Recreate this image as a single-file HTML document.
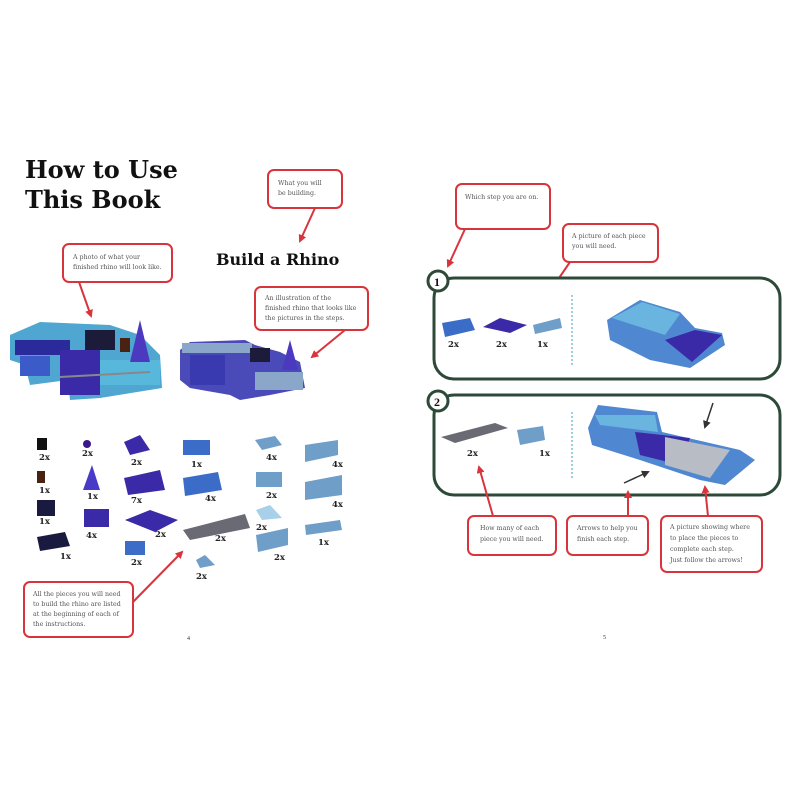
<!DOCTYPE html>
<html><head><meta charset="utf-8"><style>
html,body{margin:0;padding:0;background:#fff;}
svg{display:block}
.t{font-family:"DejaVu Serif",serif;font-size:6.3px;fill:#555}
.q{font-family:"DejaVu Serif",serif;font-weight:bold;font-size:8.5px;fill:#222}
.box{fill:#fff;stroke:#d8343c;stroke-width:2}
.ar{stroke:#d8343c;stroke-width:2;fill:none;marker-end:url(#ah)}
</style></head><body>
<svg width="800" height="800" viewBox="0 0 800 800" xmlns="http://www.w3.org/2000/svg">
<defs>
<marker id="ah" markerWidth="8" markerHeight="8" refX="6" refY="4" orient="auto" markerUnits="userSpaceOnUse"><path d="M0,0 L8,4 L0,8 z" fill="#d8343c"/></marker>
<marker id="bh" markerWidth="8" markerHeight="8" refX="6" refY="4" orient="auto" markerUnits="userSpaceOnUse"><path d="M0,0 L8,4 L0,8 z" fill="#333"/></marker>
</defs>
<text x="25" y="178" font-family="DejaVu Serif,serif" font-weight="bold" font-size="24" fill="#111">How to Use</text>
<text x="25" y="208" font-family="DejaVu Serif,serif" font-weight="bold" font-size="24" fill="#111">This Book</text>
<text x="216" y="265" font-family="DejaVu Serif,serif" font-weight="bold" font-size="16" fill="#111">Build a Rhino</text>

<rect class="box" x="268" y="170" width="74" height="38" rx="6"/>
<text class="t" x="278" y="185">What you will</text><text class="t" x="278" y="195">be building.</text>
<line class="ar" x1="315" y1="208" x2="300" y2="241"/>

<rect class="box" x="63" y="244" width="109" height="38" rx="6"/>
<text class="t" x="73" y="259">A photo of what your</text><text class="t" x="73" y="269">finished rhino will look like.</text>
<line class="ar" x1="79" y1="282" x2="91" y2="316"/>

<rect class="box" x="255" y="287" width="113" height="43" rx="6"/>
<text class="t" x="265" y="300">An illustration of the</text><text class="t" x="265" y="310">finished rhino that looks like</text><text class="t" x="265" y="320">the pictures in the steps.</text>
<line class="ar" x1="345" y1="330" x2="312" y2="357"/>

<g>
<polygon points="10,335 40,322 110,325 140,335 160,355 162,388 100,398 70,400 68,380 30,385 25,365 10,360" fill="#4fa6d0"/>
<rect x="15" y="340" width="55" height="15" fill="#2a2a9a"/>
<rect x="20" y="356" width="30" height="20" fill="#3b5cc8"/>
<rect x="60" y="350" width="40" height="45" fill="#3a2aa8"/>
<rect x="100" y="360" width="60" height="25" fill="#58b8dc"/>
<rect x="85" y="330" width="30" height="20" fill="#1c1c3a"/>
<polygon points="130,362 140,320 150,362" fill="#4b3ac0"/>
<rect x="120" y="338" width="10" height="14" fill="#4a2212"/>
<line x1="60" y1="377" x2="150" y2="372" stroke="#888" stroke-width="2"/>
</g>
<g>
<polygon points="180,350 190,342 245,340 255,345 280,352 300,362 305,388 270,395 240,400 230,395 190,388 180,380" fill="#4a4ab8"/>
<rect x="182" y="343" width="70" height="10" fill="#8aa6c8"/>
<rect x="190" y="355" width="35" height="30" fill="#3a3ab0"/>
<rect x="255" y="372" width="48" height="18" fill="#8aa6c8"/>
<rect x="250" y="348" width="20" height="14" fill="#1c1c3a"/>
<polygon points="282,370 290,340 298,370" fill="#4b3ac0"/>
</g>

<g>
<rect x="37" y="438" width="10" height="12" fill="#111"/>
<rect x="37" y="471" width="8" height="12" fill="#4a2212"/>
<rect x="37" y="500" width="18" height="16" fill="#1a1a40"/>
<polygon points="37,537 65,532 70,546 40,551" fill="#1a1a40"/>
<circle cx="87" cy="444" r="4" fill="#3a1a8a"/>
<polygon points="83,490 92,465 100,490" fill="#4a3ac8"/>
<rect x="84" y="509" width="25" height="18" fill="#3a2aa8"/>
<polygon points="124,442 140,435 150,450 130,455" fill="#3a2aa8"/>
<polygon points="124,478 160,470 165,490 128,495" fill="#3a2aa8"/>
<polygon points="125,520 150,510 178,520 155,532" fill="#3a2aa8"/>
<rect x="125" y="541" width="20" height="14" fill="#3b6cc8"/>
<rect x="183" y="440" width="27" height="15" fill="#3b6cc8"/>
<polygon points="183,478 218,472 222,490 185,496" fill="#3b6cc8"/>
<polygon points="183,530 245,514 250,528 190,540" fill="#6a6a74"/>
<polygon points="196,560 205,555 215,565 200,568" fill="#6f9ec8"/>
<polygon points="255,440 275,436 282,445 262,450" fill="#6f9ec8"/>
<rect x="256" y="472" width="26" height="15" fill="#6f9ec8"/>
<polygon points="256,510 270,505 282,518 262,520" fill="#a8d0e8"/>
<polygon points="256,535 288,528 288,545 258,552" fill="#6f9ec8"/>
<polygon points="305,445 338,440 338,455 305,462" fill="#6f9ec8"/>
<polygon points="305,482 342,475 342,495 305,500" fill="#6f9ec8"/>
<polygon points="305,525 340,520 342,530 306,535" fill="#6f9ec8"/>
</g>
<g class="q">
<text x="39" y="460">2x</text><text x="39" y="493">1x</text><text x="39" y="524">1x</text><text x="60" y="559">1x</text>
<text x="82" y="456">2x</text><text x="87" y="499">1x</text><text x="86" y="538">4x</text>
<text x="131" y="465">2x</text><text x="131" y="503">7x</text><text x="155" y="537">2x</text><text x="131" y="565">2x</text>
<text x="191" y="467">1x</text><text x="205" y="501">4x</text><text x="215" y="541">2x</text><text x="196" y="579">2x</text>
<text x="266" y="460">4x</text><text x="266" y="498">2x</text><text x="256" y="530">2x</text><text x="274" y="560">2x</text>
<text x="332" y="467">4x</text><text x="332" y="507">4x</text><text x="318" y="545">1x</text>
</g>

<rect class="box" x="24" y="582" width="109" height="55" rx="6"/>
<text class="t" x="33" y="596">All the pieces you will need</text><text class="t" x="33" y="606">to build the rhino are listed</text><text class="t" x="33" y="616">at the beginning of each of</text><text class="t" x="33" y="626">the instructions.</text>
<line class="ar" x1="133" y1="602" x2="182" y2="552"/>
<text x="187" y="640" font-family="Liberation Serif,serif" font-size="6" fill="#333">4</text>

<rect class="box" x="456" y="184" width="94" height="45" rx="6"/>
<text class="t" x="465" y="199">Which step you are on.</text>
<line class="ar" x1="465" y1="229" x2="448" y2="266"/>
<rect class="box" x="563" y="224" width="95" height="38" rx="6"/>
<text class="t" x="572" y="238">A picture of each piece</text><text class="t" x="572" y="248">you will need.</text>
<line class="ar" x1="570" y1="262" x2="544" y2="300"/>

<rect x="434" y="278" width="346" height="101" rx="20" fill="#fff" stroke="#2d4a38" stroke-width="3"/>
<circle cx="438" cy="281" r="10" fill="#fff" stroke="#2d4a38" stroke-width="3"/>
<text x="434" y="286" font-family="Liberation Serif,serif" font-weight="bold" font-size="12" fill="#111">1</text>
<line x1="572" y1="295" x2="572" y2="365" stroke="#7ac0dc" stroke-width="1.5" stroke-dasharray="2,2"/>
<polygon points="442,323 470,318 475,330 445,337" fill="#3b6cc8"/>
<polygon points="483,327 500,318 527,325 510,333" fill="#3a2aa8"/>
<polygon points="533,325 560,318 562,328 535,334" fill="#6f9ec8"/>
<text class="q" x="448" y="347">2x</text><text class="q" x="496" y="347">2x</text><text class="q" x="537" y="347">1x</text>
<polygon points="607,320 640,300 680,312 695,328 722,333 725,345 690,368 650,360 610,340" fill="#4f88d0"/>
<polygon points="612,318 642,302 680,314 665,335" fill="#6ab4e0"/>
<polygon points="665,340 695,330 722,335 692,362" fill="#3a2aa8"/>

<rect x="434" y="395" width="346" height="100" rx="20" fill="#fff" stroke="#2d4a38" stroke-width="3"/>
<circle cx="438" cy="401" r="10" fill="#fff" stroke="#2d4a38" stroke-width="3"/>
<text x="434" y="406" font-family="Liberation Serif,serif" font-weight="bold" font-size="12" fill="#111">2</text>
<line x1="572" y1="412" x2="572" y2="480" stroke="#7ac0dc" stroke-width="1.5" stroke-dasharray="2,2"/>
<polygon points="441,437 495,423 508,428 455,443" fill="#6a6a74"/>
<polygon points="517,430 543,426 545,440 520,445" fill="#6f9ec8"/>
<text class="q" x="467" y="456">2x</text><text class="q" x="539" y="456">1x</text>
<polygon points="588,428 598,405 657,412 662,432 740,450 755,460 725,485 700,480 640,460 592,445" fill="#4f88d0"/>
<polygon points="595,415 655,415 658,432 600,425" fill="#6ab4e0"/>
<polygon points="635,432 690,438 680,465 640,455" fill="#3a2aa8"/>
<polygon points="665,437 730,450 710,478 665,465" fill="#b8bcc4"/>
<line x1="713" y1="403" x2="705" y2="427" stroke="#333" stroke-width="1.5" marker-end="url(#bh)"/>
<line x1="624" y1="483" x2="648" y2="472" stroke="#333" stroke-width="1.5" marker-end="url(#bh)"/>

<rect class="box" x="468" y="516" width="88" height="39" rx="6"/>
<text class="t" x="480" y="530">How many of each</text><text class="t" x="480" y="541">piece you will need.</text>
<line class="ar" x1="493" y1="516" x2="479" y2="467"/>
<rect class="box" x="567" y="516" width="81" height="39" rx="6"/>
<text class="t" x="577" y="530">Arrows to help you</text><text class="t" x="577" y="541">finish each step.</text>
<line class="ar" x1="628" y1="516" x2="628" y2="492"/>
<rect class="box" x="661" y="516" width="101" height="56" rx="6"/>
<text class="t" x="670" y="529">A picture showing where</text><text class="t" x="670" y="540">to place the pieces to</text><text class="t" x="670" y="551">complete each step.</text><text class="t" x="670" y="562">Just follow the arrows!</text>
<line class="ar" x1="708" y1="516" x2="705" y2="487"/>
<text x="603" y="639" font-family="Liberation Serif,serif" font-size="6" fill="#333">5</text>
</svg>
</body></html>
